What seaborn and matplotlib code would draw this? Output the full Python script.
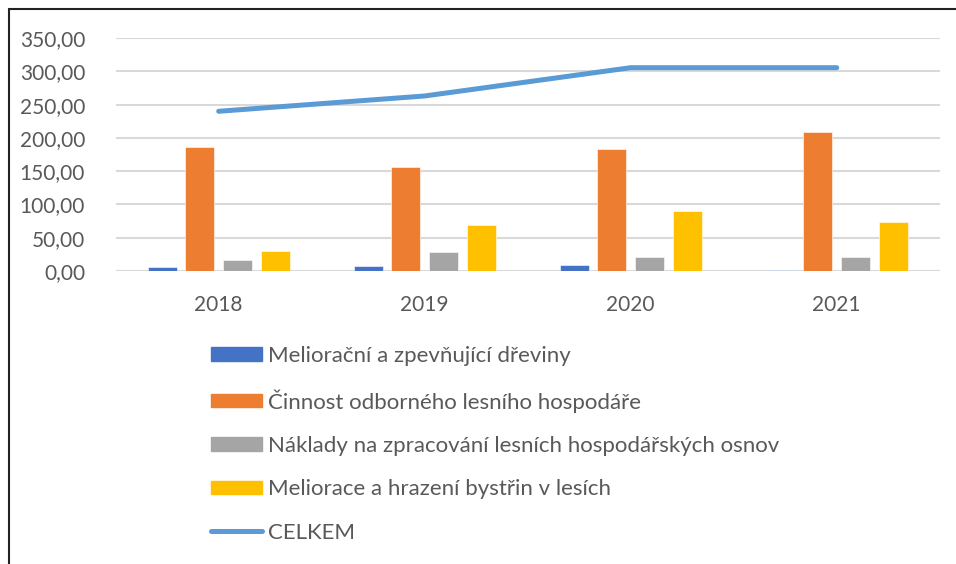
import numpy as np
import pandas as pd
import seaborn as sns
import matplotlib.pyplot as plt
from matplotlib.lines import Line2D
from matplotlib.ticker import FuncFormatter

years = ["2018", "2019", "2020", "2021"]
series_names = [
    "Meliorační a zpevňující dřeviny",
    "Činnost odborného lesního hospodáře",
    "Náklady na zpracování lesních hospodářských osnov",
    "Meliorace a hrazení bystřin v lesích",
]
meliorace_dreviny = [6.5, 7.5, 9.0, 1.0]
cinnost_olh = [186.5, 156.5, 183.5, 209.5]
naklady_lho = [16.5, 29.0, 21.5, 21.5]
hrazeni_bystrin = [30.0, 69.0, 89.5, 73.5]
celkem = [240.0, 263.0, 305.5, 305.5]
line_name = "CELKEM"

colors = ["#4472C4", "#ED7D31", "#A5A5A5", "#FFC000"]
line_color = "#5B9BD5"
text_color = "#595959"

# long table for seaborn
values = [meliorace_dreviny, cinnost_olh, naklady_lho, hrazeni_bystrin]
rows = []
for name, vals in zip(series_names, values):
    for y, v in zip(years, vals):
        rows.append({"rok": y, "typ": name, "hodnota": v})
df = pd.DataFrame(rows)

sns.set_style("white")
plt.rcParams["font.family"] = ["Lato", "DejaVu Sans"]

fig = plt.figure(figsize=(9.56, 5.64), dpi=100)
ax = fig.add_axes([0.121, 0.5195, 0.862, 0.413])

sns.barplot(data=df, x="rok", y="hodnota", hue="typ", hue_order=series_names,
            palette=colors, saturation=1, width=0.73, gap=0.23, ax=ax, legend=False,
            edgecolor="white", linewidth=0.4)

sns.lineplot(x=np.arange(len(years)), y=celkem, ax=ax, color=line_color,
             linewidth=3.6, solid_capstyle="round", solid_joinstyle="round",
             label=line_name, legend=False)

ax.set_xlim(-0.5, len(years) - 0.5)
ax.set_ylim(0, 350)
ax.set_yticks(np.arange(0, 351, 50))
ax.yaxis.set_major_formatter(FuncFormatter(lambda v, p: f"{v:,.2f}".replace(".", ",")))
ax.grid(axis="y", color="#D9D9D9", linewidth=1.5)
ax.set_axisbelow(True)
for s in ax.spines.values():
    s.set_visible(False)
ax.set_xlabel("")
ax.set_ylabel("")
ax.tick_params(axis="both", length=0, labelsize=15, labelcolor=text_color)
ax.tick_params(axis="x", pad=17)
ax.tick_params(axis="y", pad=22)

# legend below the chart
handles = [plt.Rectangle((0, 0), 1, 1, color=c) for c in colors]
handles.append(Line2D([], [], color=line_color, linewidth=3.6, solid_capstyle="round"))
labels = series_names + [line_name]
leg = fig.legend(handles, labels, loc="upper left", bbox_to_anchor=(0.221, 0.387),
                 frameon=False, fontsize=16, labelcolor=text_color,
                 handlelength=2.3, handleheight=0.55, handletextpad=0.27,
                 labelspacing=1.05, borderaxespad=0, borderpad=0)

# outer frame (left and top edge visible)
fig.add_artist(Line2D([0.0094, 0.0094], [0.0, 0.984], transform=fig.transFigure,
                      color="#222222", linewidth=1.5))
fig.add_artist(Line2D([0.0094, 1.0], [0.984, 0.984], transform=fig.transFigure,
                      color="#222222", linewidth=1.5))

fig.savefig("out.png", dpi=100)
